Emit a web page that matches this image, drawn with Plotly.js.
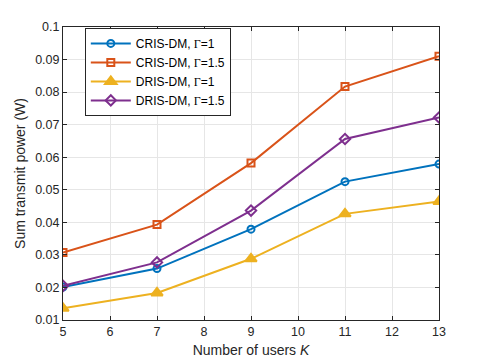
<!DOCTYPE html>
<html lang="en">
    <head>
        <meta charset="UTF-8">
        <title>Sum transmit power vs number of users</title>
        <script src="https://cdn.plot.ly/plotly-3.0.1.min.js"></script>
        <style>
            body { margin: 0; background: #fff; }
        </style>
    </head>
    <body>

        <div id="plot"></div>

        <script>
        // Number of users
        const K = [5, 7, 9, 11, 13];

        // Sum transmit power (W)
        const crisG1 = [0.0201, 0.0258, 0.0379, 0.0525, 0.0579];
        const crisG15 = [0.0307, 0.0393, 0.0582, 0.0817, 0.0910];
        const drisG1 = [0.0136, 0.0183, 0.0288, 0.0426, 0.0464];
        const drisG15 = [0.0205, 0.0277, 0.0436, 0.0656, 0.0722];

        const yTicks = [0.01, 0.02, 0.03, 0.04, 0.05, 0.06, 0.07, 0.08, 0.09, 0.1];
        const yTickText = ['0.01', '0.02', '0.03', '0.04', '0.05', '0.06', '0.07', '0.08', '0.09', '0.1'];
        const xTicks = [5, 6, 7, 8, 9, 10, 11, 12, 13];

        const gam = '<span style="font-family:\'Liberation Serif\', serif">Γ</span>';

        function series(y, name, color, symbol, size) {
            return {
                x: K,
                y: y,
                type: 'scatter',
                mode: 'lines+markers',
                name: name,
                line: { color: color, width: 2 },
                marker: { symbol: symbol, size: size, color: color, line: { color: color, width: 2 } }
            };
        }

        const traces = [
            series(crisG1, 'CRIS-DM, ' + gam + '=1', '#0072BD', 'circle-open', 7),
            series(crisG15, 'CRIS-DM, ' + gam + '=1.5', '#D95319', 'square-open', 7),
            series(drisG1, 'DRIS-DM, ' + gam + '=1', '#EDB120', 'triangle-up', 10),
            series(drisG15, 'DRIS-DM, ' + gam + '=1.5', '#7E2F8E', 'diamond-open', 8)
        ];

        const axisCommon = {
            showline: true,
            linecolor: '#262626',
            linewidth: 1,
            mirror: 'allticks',
            ticks: 'inside',
            ticklen: 4,
            tickcolor: '#262626',
            showgrid: true,
            gridcolor: '#e6e6e6',
            gridwidth: 1,
            zeroline: false,
            tickfont: { size: 12.5, color: '#262626' }
        };

        const layout = {
            width: 485,
            height: 363,
            margin: { l: 63, r: 46, t: 27, b: 43 },
            paper_bgcolor: '#ffffff',
            plot_bgcolor: '#ffffff',
            font: { family: 'Liberation Sans, Arial, sans-serif', color: '#262626' },
            showlegend: true,
            legend: {
                x: 0.058,
                y: 0.997,
                xanchor: 'left',
                yanchor: 'top',
                bgcolor: '#ffffff',
                bordercolor: '#262626',
                borderwidth: 1,
                font: { size: 12, color: '#000000' },
                itemwidth: 40,
                tracegroupgap: 0
            },
            xaxis: Object.assign({}, axisCommon, {
                range: [5, 13],
                tickvals: xTicks,
                title: { text: 'Number of users <i>K</i>', font: { size: 14 }, standoff: 7 }
            }),
            yaxis: Object.assign({}, axisCommon, {
                range: [0.01, 0.1],
                tickvals: yTicks,
                ticktext: yTickText,
                title: { text: 'Sum transmit power (W)', font: { size: 14 }, standoff: 6 }
            })
        };

        Plotly.newPlot('plot', traces, layout, { displayModeBar: false, staticPlot: true });
        </script>

    </body>
</html>
